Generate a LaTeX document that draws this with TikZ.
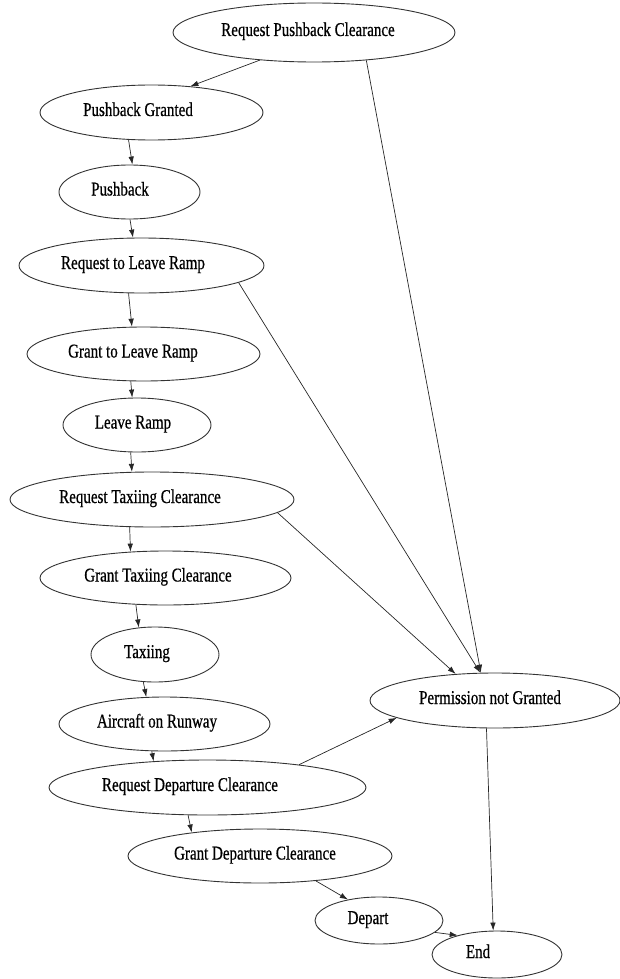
\documentclass[tikz,border=0pt]{standalone}
\usepackage{fontspec}
\newfontfamily\nodefont[FakeStretch=0.77,FakeBold=0.6]{Liberation Serif}
\usetikzlibrary{shapes.geometric,arrows.meta}
% label text, pushed left inside its ellipse by half of #1
\newcommand\lbl[2]{#2\kern#1pt}
\begin{document}
\begin{tikzpicture}[x=1pt,y=-1pt,
  state/.style={ellipse, draw=black!80, line width=0.9pt, inner sep=0pt,
    font=\nodefont\fontsize{19.5}{20}\selectfont, text height=12pt, text depth=5pt},
  flow/.style={draw=black!85, line width=0.7pt, -{Latex[length=8pt,width=5.5pt]}}]
\useasboundingbox (0,0) rectangle (620,979);

\node[state, minimum width=282pt, minimum height=59pt] (rpc) at (314,32.5) {\lbl{12}{Request Pushback Clearance}};
\node[state, minimum width=223pt, minimum height=55pt] (pg)  at (151.5,112.5) {\lbl{27}{Pushback Granted}};
\node[state, minimum width=141pt, minimum height=54pt] (pb)  at (129.5,192) {\lbl{19}{Pushback}};
\node[state, minimum width=245pt, minimum height=55pt] (rlr) at (141.5,265.5) {\lbl{17}{Request to Leave Ramp}};
\node[state, minimum width=233pt, minimum height=54pt] (glr) at (143.5,354) {\lbl{21}{Grant to Leave Ramp}};
\node[state, minimum width=148pt, minimum height=54pt] (lr)  at (137,425) {\lbl{8}{Leave Ramp}};
\node[state, minimum width=284pt, minimum height=55pt] (rtc) at (152,499.5) {\lbl{24}{Request Taxiing Clearance}};
\node[state, minimum width=251pt, minimum height=54pt] (gtc) at (165.5,578) {\lbl{15}{Grant Taxiing Clearance}};
\node[state, minimum width=128pt, minimum height=55pt] (tx)  at (155,654.5) {\lbl{16}{Taxiing}};
\node[state, minimum width=211pt, minimum height=54pt] (aor) at (164.5,724) {\lbl{15}{Aircraft on Runway}};
\node[state, minimum width=317pt, minimum height=55pt] (rdc) at (207.5,787.5) {\lbl{35}{Request Departure Clearance}};
\node[state, minimum width=264pt, minimum height=54pt] (gdc) at (260,856) {\lbl{10}{Grant Departure Clearance}};
\node[state, minimum width=128pt, minimum height=47pt] (dep) at (379,920.5) {\lbl{22}{Depart}};
\node[state, minimum width=130pt, minimum height=47pt] (end) at (497,954.5) {\lbl{38}{End}};
\node[state, minimum width=250pt, minimum height=55pt] (png) at (495,700.5) {\lbl{10}{Permission not Granted}};

% main sequence
\draw[flow] (rpc.207.8) -- (pg.34.5);
\draw[flow] (pg.230) -- (pb.84.7);
\draw[flow] (pb.271) -- (rlr.107);
\draw[flow] (rlr.245.6) -- (glr.113);
\draw[flow] (glr.245) -- (lr.100.5);
\draw[flow] (lr.257.5) -- (rtc.126.3);
\draw[flow] (rtc.231.3) -- (gtc.143);
\draw[flow] (gtc.222.7) -- (tx.121);
\draw[flow] (tx.247.9) -- (aor.124.8);
\draw[flow] (aor.245) -- (rdc.154.7);
\draw[flow] (rdc.235.9) -- (gdc.161.2);
\draw[flow] (gdc.336.5) -- (dep.146.4);
\draw[flow] (dep.348.5) -- (end.154.3);

% refusals
\draw[flow] (rpc.332.2) -- (png.117);
\draw[flow] (rlr.350.7) -- (png.118);
\draw[flow] (rtc.354.4) -- (png.146.2);
\draw[flow] (rdc.14.1) -- (png.190.8);
\draw[flow] (png.253.8) -- (end.99.3);
\end{tikzpicture}
\end{document}
